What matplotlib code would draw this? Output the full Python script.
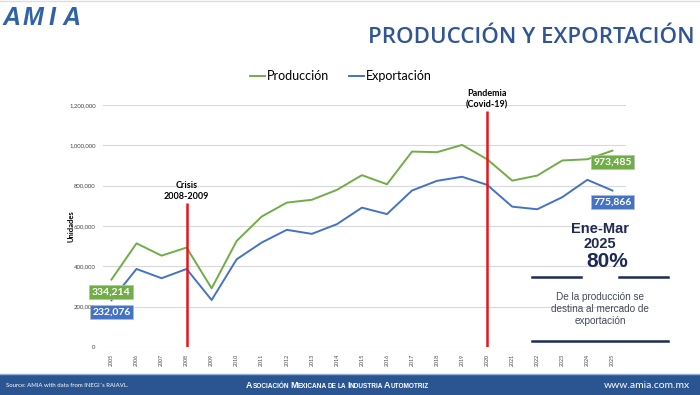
import numpy as np
import matplotlib.pyplot as plt
from matplotlib.patches import Rectangle

years = list(range(2005, 2026))
produccion = [334214, 514000, 453000, 493000, 291000, 526000, 647000, 716000, 730000, 779000,
              852000, 807000, 969000, 966000, 1002000, 931000, 825000, 850000, 925000, 931000, 973485]
exportacion = [232076, 387000, 341000, 387000, 233000, 435000, 518000, 581000, 561000, 609000,
               691000, 659000, 776000, 824000, 844000, 804000, 696000, 683000, 743000, 829000, 775866]
yticks = [0, 200000, 400000, 600000, 800000, 1000000, 1200000]

green = '#70AD47'
blue = '#4472C4'
navy = '#1F2A55'
title_blue = '#2F5597'

plt.rcParams['font.family'] = ['Lato', 'DejaVu Sans']

fig = plt.figure(figsize=(7, 3.95), dpi=100)
fig.patch.set_facecolor('white')

ax = fig.add_axes([0.1467, 0.1215, 0.7471, 0.6127])
ax.plot(years, produccion, color=green, lw=1.4, label='Producción')
ax.plot(years, exportacion, color=blue, lw=1.4, label='Exportación')
ax.set_xlim(2004.65, 2025.53)
ax.set_ylim(0, 1200000)
ax.set_yticks(yticks)
ax.set_yticklabels([f'{v:,}' for v in yticks], fontsize=4.3, color='#444444')
ax.set_xticks(years)
ax.set_xticklabels([str(y) for y in years], rotation=90, fontsize=3.8, color='#444444')
ax.tick_params(length=0, pad=5)
ax.grid(axis='y', color='#D9D9D9', lw=0.8)
ax.set_axisbelow(True)
for s in ax.spines.values():
    s.set_visible(False)
ax.set_ylabel('Unidades', fontsize=5.5, fontweight='bold', labelpad=4)
ax.yaxis.set_label_coords(-0.053, 0.5)

leg = ax.legend(loc='center', bbox_to_anchor=(0.455, 1.12), ncol=2, frameon=False,
                fontsize=9, handlelength=1.2, handletextpad=0.15, columnspacing=1.6)

# event lines
ax.vlines(2008, 0, 715000, color='#E8141B', lw=1.8)
ax.vlines(2020, 0, 1168000, color='#E8141B', lw=1.8)
ax.text(2008, 722000, 'Crisis\n2008-2009', ha='center', va='bottom', fontsize=6.5,
        fontweight='bold', linespacing=1.3)
ax.text(2020, 1180000, 'Pandemia\n(Covid-19)', ha='center', va='bottom', fontsize=6.5,
        fontweight='bold', linespacing=1.3)

# value boxes
def box(x, y, txt, col):
    ax.text(x, y, txt, ha='center', va='center', fontsize=7.5, fontweight='bold', color='white',
            bbox=dict(boxstyle='square,pad=0.25', fc=col, ec='#BBBBBB', lw=0.5))

box(2005, 274000, f'{produccion[0]:,}', green)
box(2005, 175000, f'{exportacion[0]:,}', blue)
box(2025, 917000, f'{produccion[-1]:,}', green)
box(2025, 718000, f'{exportacion[-1]:,}', blue)

# right side callout
fig.text(0.857, 0.42, 'Ene-Mar', ha='center', va='center', fontsize=10.5,
         fontweight='black', color=navy, family=['Liberation Sans'])
fig.text(0.857, 0.382, '2025', ha='center', va='center', fontsize=10.5,
         fontweight='black', color=navy, family=['Liberation Sans'])
fig.text(0.868, 0.337, '80%', ha='center', va='center', fontsize=15, fontweight='black',
         color=navy, family=['Liberation Sans'])
fig.add_artist(plt.Line2D([0.760, 0.830], [0.300, 0.300], color=navy, lw=1.8))
fig.add_artist(plt.Line2D([0.884, 0.954], [0.300, 0.300], color=navy, lw=1.8))
fig.text(0.857, 0.218, 'De la producción se\ndestina al mercado de\nexportación', ha='center',
         va='center', fontsize=7.2, color='#444A5C', family=['Liberation Sans'], linespacing=1.25)
fig.add_artist(plt.Line2D([0.760, 0.954], [0.137, 0.137], color=navy, lw=1.8))

# header logo, letters spread like the AMIA mark
for ch, xp in zip('AMIA', [3, 23, 49, 63]):
    fig.text(xp / 700, 0.955, ch, fontsize=18, fontweight='black', fontstyle='italic',
             color='#2F62A8', family=['Liberation Sans'], va='center')
fig.text(0.992, 0.905, 'PRODUCCIÓN Y EXPORTACIÓN', ha='right', va='center', fontsize=16,
         fontweight='semibold', color=title_blue, family=['Open Sans'])
fig.add_artist(plt.Line2D([0, 1], [0.997, 0.997], color='#DDDDDD', lw=1))

# footer
fig.add_artist(Rectangle((0, 0), 1, 0.05, transform=fig.transFigure, color='#2B5590'))
fig.add_artist(plt.Line2D([0, 1], [0.053, 0.053], color='#8FB0D8', lw=1))
fig.text(0.009, 0.025, "Source: AMIA with data from INEGI´s RAIAVL.", fontsize=4.3, color='white',
         va='center')

# small caps footer title
renderer = fig.canvas.get_renderer()
xpx = 246
for word in 'Asociación Mexicana de la Industria Automotriz'.split():
    parts = [(word[0].upper(), 6.4), (word[1:].upper(), 4.7)]
    if word in ('de', 'la'):
        parts = [(word.upper(), 4.7)]
    for txt, fs in parts:
        t = fig.text(xpx / 700, 0.018, txt, fontsize=fs, color='white', fontweight='bold',
                     va='baseline', family=['Liberation Sans'])
        xpx += t.get_window_extent(renderer).width
    xpx += 1.0

fig.text(0.986, 0.025, 'www.amia.com.mx', fontsize=7.5, color='white', va='center', ha='right')

fig.savefig('out.png', dpi=100)
